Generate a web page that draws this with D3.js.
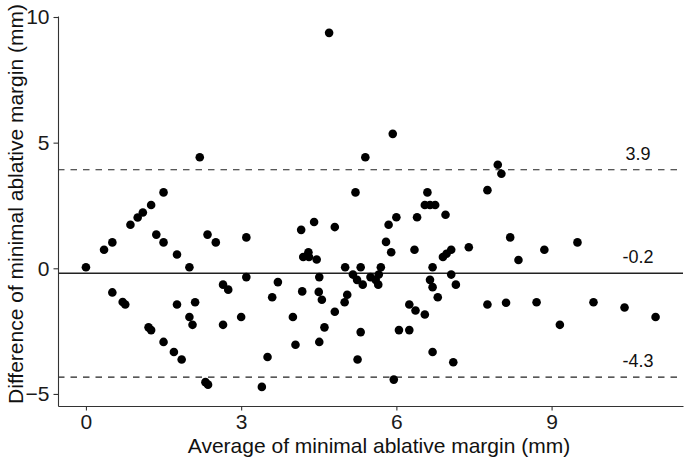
<!DOCTYPE html>
<html lang="en">

<head>
    <meta charset="UTF-8">
    <title>Bland-Altman plot of minimal ablative margin</title>
    <script src="https://d3js.org/d3.v7.min.js"></script>
    <style>
        body {
            margin: 0;
            padding: 0;
            background: #fff;
            font-family: "Liberation Sans", Arial, sans-serif;
        }

        .axis path,
        .axis line {
            stroke: #333;
            stroke-width: 1.1px;
        }

        .axis text {
            font-size: 21px;
            fill: #1a1a1a;
        }

        .axis-title {
            font-size: 21px;
            fill: #111;
        }

        .loa-label {
            font-size: 18px;
            fill: #111;
        }
    </style>
</head>

<body>
    <div id="chart"></div>

    <script>
        // average of the two measurements (mm)
        const avgMargin = [
            0.00, 0.35, 0.51, 0.51, 0.71, 0.76, 0.86, 1.00, 1.10, 1.26,
            1.50, 1.36, 1.50, 1.76, 2.00, 1.21, 1.26, 1.50, 1.70, 1.85,
            1.76, 2.11, 2.00, 2.06, 2.20, 2.35, 2.51, 2.65, 2.75, 2.65,
            2.31, 2.36, 3.00, 3.10, 3.10,
            3.51, 3.40, 3.60, 3.71, 4.00, 4.05, 4.16, 4.18, 4.20, 4.30,
            4.31, 4.41, 4.46, 4.51, 4.50, 4.56, 4.61, 4.51, 4.81, 4.81,
            5.01, 5.00, 5.05, 5.16, 5.24, 5.35, 5.31, 5.21, 5.40, 5.93,
            5.31, 5.25, 5.50, 5.60, 5.65, 5.66, 5.70, 5.80, 5.90, 5.85,
            6.00, 5.95, 6.05, 6.25, 6.25, 6.37, 6.55, 6.35, 6.40, 6.60,
            6.55, 6.65, 6.75, 6.95, 6.70, 6.65, 6.70, 6.80, 6.70, 6.90,
            6.97, 7.06, 7.06, 7.15, 7.10, 7.40, 7.76, 7.96, 8.03, 7.76,
            8.12, 8.20, 8.36, 8.71, 8.86, 9.16, 9.50, 9.81, 10.41, 11.01,
            4.70
        ];

        // difference between the two measurements (mm)
        const diffMargin = [
            0.04, 0.74, 1.03, -0.96, -1.34, -1.44, 1.73, 2.02, 2.22, 2.52,
            3.02, 1.34, 1.03, 0.55, 0.04, -2.35, -2.46, -2.93, -3.33, -3.63,
            -1.44, -1.35, -1.94, -2.25, 4.42, 1.34, 1.03, -0.65, -0.85, -2.25,
            -4.53, -4.63, -1.94, 1.23, -0.35,
            -3.53, -4.72, -1.15, -0.55, -1.94, -3.04, 1.53, -0.92, 0.45, 0.64,
            0.45, 1.84, 0.35, -0.35, -0.94, -1.25, -2.35, -2.93, 1.64, -1.73,
            0.04, -1.35, -1.05, -0.25, -0.46, -0.65, 0.04, 3.02, 4.42, 5.35,
            -2.54, -3.63, -0.35, -0.46, -0.65, -0.25, 0.04, 1.05, 0.64, 1.73,
            2.03, -4.43, -2.46, -2.46, -1.44, -1.68, -1.84, 0.74, 2.03, 3.02,
            2.52, 2.52, 2.52, 2.13, 0.04, -0.46, -0.75, -1.15, -3.33, 0.45,
            0.58, 0.74, -0.25, -0.65, -3.74, 0.84, 3.11, 4.12, 3.76, -1.44,
            -1.37, 1.23, 0.33, -1.35, 0.74, -2.25, 1.03, -1.35, -1.56, -1.94,
            9.37
        ];

        // mean difference and limits of agreement
        const refValues = [3.92, -0.20, -4.33];
        const refLabels = ["3.9", "-0.2", "-4.3"];
        const refDashed = [true, false, true];
        const labelX = 10.67;

        const xTicks = [0, 3, 6, 9];
        const yTicks = [-5, 0, 5, 10];

        const width = 685;
        const height = 457;
        const margin = { top: 16, right: 2, bottom: 51, left: 58 };

        const svg = d3.select("#chart")
            .append("svg")
            .attr("width", width)
            .attr("height", height);

        const x = d3.scaleLinear()
            .domain([-0.54, 11.54])
            .range([margin.left, width - margin.right]);

        const y = d3.scaleLinear()
            .domain([-5.48, 10.04])
            .range([height - margin.bottom, margin.top]);

        const points = avgMargin.map((d, i) => ({ avg: d, diff: diffMargin[i] }));

        // reference lines
        svg.append("g")
            .selectAll("line")
            .data(refValues)
            .enter().append("line")
            .attr("x1", x.range()[0])
            .attr("x2", x.range()[1])
            .attr("y1", d => y(d))
            .attr("y2", d => y(d))
            .attr("stroke", "#222")
            .attr("stroke-width", (d, i) => refDashed[i] ? 1.1 : 1.4)
            .attr("stroke-dasharray", (d, i) => refDashed[i] ? "6.5,6" : null);

        svg.append("g")
            .selectAll("text")
            .data(refValues)
            .enter().append("text")
            .attr("class", "loa-label")
            .attr("x", x(labelX))
            .attr("y", d => y(d) - 10)
            .attr("text-anchor", "middle")
            .text((d, i) => refLabels[i]);

        // points
        svg.append("g")
            .selectAll("circle")
            .data(points)
            .enter().append("circle")
            .attr("cx", d => x(d.avg))
            .attr("cy", d => y(d.diff))
            .attr("r", 4.3)
            .attr("fill", "#000");

        // axes
        svg.append("g")
            .attr("class", "axis")
            .attr("transform", `translate(0,${height - margin.bottom})`)
            .call(d3.axisBottom(x).tickValues(xTicks).tickSize(4.5).tickSizeOuter(0).tickPadding(5))
            .call(g => g.selectAll("text").attr("dy", "13.5px"));

        svg.append("g")
            .attr("class", "axis")
            .attr("transform", `translate(${margin.left},0)`)
            .call(d3.axisLeft(y).tickValues(yTicks).tickSize(4.5).tickSizeOuter(0).tickPadding(4));

        svg.selectAll(".axis text").attr("font-family", null);

        // axis titles
        svg.append("text")
            .attr("class", "axis-title")
            .attr("x", 379)
            .attr("y", 453)
            .attr("text-anchor", "middle")
            .text("Average of minimal ablative margin (mm)");

        svg.append("text")
            .attr("class", "axis-title")
            .attr("transform", "translate(23,204) rotate(-90)")
            .attr("text-anchor", "middle")
            .text("Difference of minimal ablative margin (mm)");
    </script>
</body>

</html>
